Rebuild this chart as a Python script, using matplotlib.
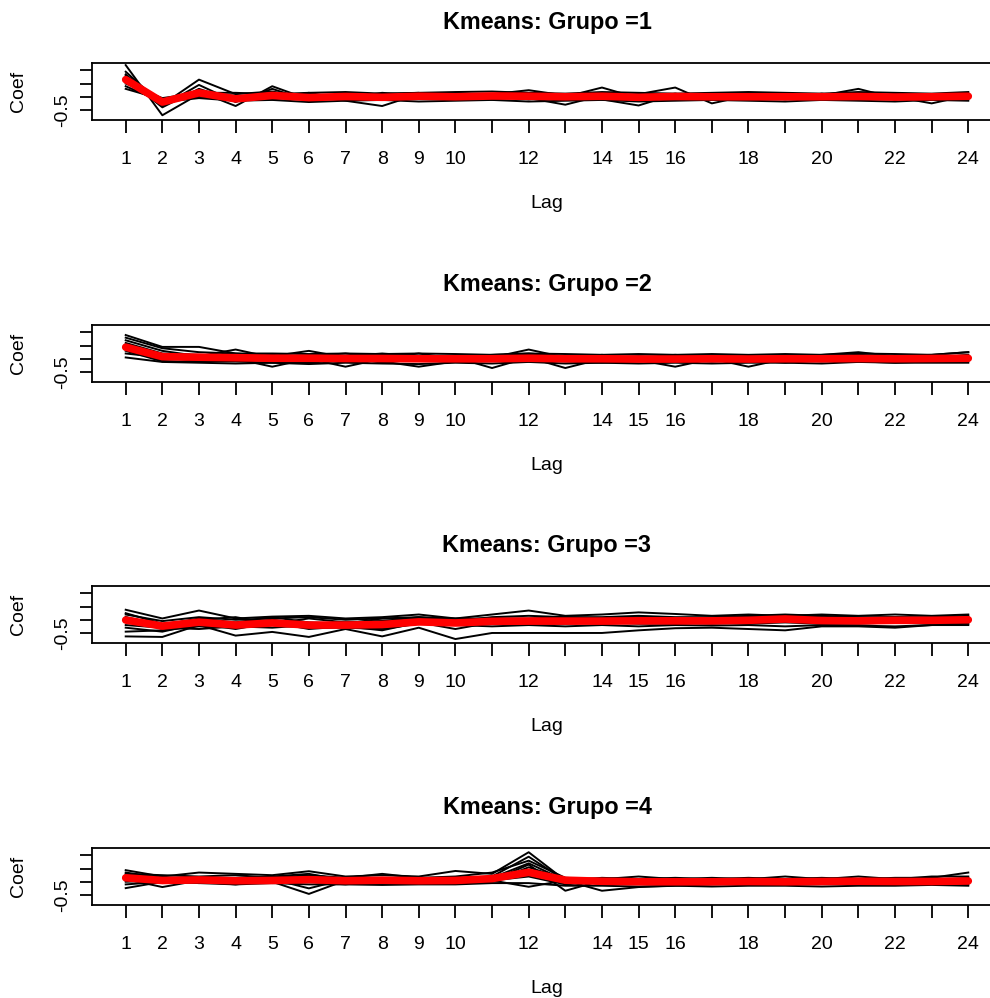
import numpy as np
import matplotlib
matplotlib.use("Agg")
import matplotlib.pyplot as plt

plt.rcParams['font.family'] = ['Liberation Sans', 'DejaVu Sans']

lags = list(range(1, 25))
shown_labels = [1, 2, 3, 4, 5, 6, 7, 8, 9, 10, 12, 14, 15, 16, 18, 20, 22, 24]
titles = ["Kmeans: Grupo =1", "Kmeans: Grupo =2", "Kmeans: Grupo =3", "Kmeans: Grupo =4"]

# autocorrelation curves of each series, per group
grupo1 = [
    [1.20, -0.70, 0.10, -0.05, 0.05, -0.10, 0.05, -0.10, 0.10, -0.05, 0.05, 0.00, -0.05, 0.05, -0.10, 0.05, 0.00, -0.05, 0.05, 0.00, 0.05, -0.05, 0.05, 0.10],
    [0.95, -0.30, 0.65, 0.10, 0.20, -0.05, 0.10, 0.00, 0.05, 0.10, 0.00, 0.10, 0.00, 0.35, -0.05, 0.00, 0.05, 0.00, 0.00, 0.05, 0.30, -0.05, 0.00, 0.05],
    [0.80, -0.15, 0.20, -0.35, 0.40, -0.10, 0.00, 0.10, -0.05, 0.15, 0.05, -0.05, -0.30, 0.05, 0.10, 0.35, -0.25, 0.05, 0.00, -0.05, 0.05, 0.00, -0.25, 0.05],
    [0.60, -0.25, 0.05, 0.00, -0.10, 0.05, -0.15, -0.35, 0.10, -0.05, 0.10, 0.25, 0.05, -0.10, -0.33, 0.10, 0.00, 0.05, -0.05, 0.10, -0.05, 0.05, 0.05, 0.00],
    [0.50, -0.05, 0.15, 0.15, 0.10, 0.15, 0.18, 0.12, 0.15, 0.18, 0.20, 0.15, 0.12, 0.18, 0.15, 0.12, 0.15, 0.18, 0.15, 0.12, 0.18, 0.15, 0.12, 0.18],
    [0.40, -0.20, -0.05, -0.15, -0.12, -0.20, -0.15, -0.12, -0.18, -0.15, -0.12, -0.18, -0.15, -0.12, -0.18, -0.15, -0.12, -0.15, -0.18, -0.12, -0.15, -0.18, -0.12, -0.15],
    [0.70, -0.40, 0.30, -0.15, 0.15, 0.00, -0.05, 0.15, 0.05, 0.05, -0.10, 0.00, -0.05, 0.10, 0.05, 0.00, -0.05, 0.10, 0.05, -0.10, 0.05, -0.10, 0.05, 0.10],
    [0.30, -0.10, 0.00, -0.05, -0.05, 0.15, -0.10, 0.10, 0.15, -0.10, 0.10, -0.10, 0.10, -0.10, 0.10, -0.10, 0.10, -0.10, 0.10, -0.10, 0.10, -0.10, 0.10, -0.10],
    [0.85, -0.35, 0.45, -0.20, 0.30, -0.15, 0.15, -0.10, 0.10, -0.05, 0.10, 0.05, 0.00, 0.05, 0.00, 0.05, -0.05, 0.05, 0.00, 0.05, 0.00, 0.00, 0.05, 0.05],
    [0.55, -0.15, 0.10, 0.05, -0.05, -0.05, 0.10, -0.12, 0.05, 0.12, -0.10, 0.12, -0.10, 0.12, -0.10, 0.12, -0.10, 0.12, -0.10, 0.12, -0.10, 0.12, -0.10, 0.12],
]
media1 = [0.65, -0.20, 0.15, -0.08, 0.05, -0.03, 0.01, -0.02, 0.02, 0.00, 0.03, 0.02, 0.00, 0.02, -0.02, 0.01, 0.00, 0.00, 0.00, 0.00, 0.01, -0.01, 0.00, 0.02]

grupo2 = [
    [0.90, 0.45, 0.45, 0.20, 0.10, 0.30, 0.05, 0.15, 0.05, 0.10, 0.05, 0.35, 0.05, 0.10, 0.05, 0.15, 0.05, 0.10, 0.05, 0.15, 0.25, 0.10, 0.15, 0.25],
    [0.70, 0.30, 0.10, 0.35, 0.05, 0.10, 0.20, 0.05, 0.20, 0.00, 0.10, 0.15, 0.00, 0.15, 0.00, 0.05, 0.10, 0.05, 0.10, 0.05, 0.10, 0.05, 0.10, 0.10],
    [0.50, 0.10, 0.05, 0.00, -0.30, 0.00, -0.30, 0.00, -0.05, 0.05, -0.35, 0.05, -0.35, 0.00, -0.05, -0.30, 0.00, -0.30, 0.00, -0.10, 0.00, -0.05, 0.00, 0.05],
    [0.30, -0.10, -0.10, -0.10, -0.15, -0.15, -0.05, -0.10, -0.30, -0.10, -0.05, 0.00, -0.10, -0.15, -0.10, -0.05, -0.10, -0.05, -0.15, -0.05, -0.10, -0.15, -0.10, -0.10],
    [0.05, -0.12, -0.15, -0.18, -0.15, -0.20, -0.15, -0.18, -0.20, -0.15, -0.18, -0.12, -0.18, -0.15, -0.18, -0.15, -0.18, -0.15, -0.15, -0.18, -0.12, -0.15, -0.15, -0.15],
    [0.60, 0.20, 0.15, 0.10, 0.15, 0.05, 0.10, 0.20, 0.10, 0.05, 0.15, 0.20, 0.10, 0.05, 0.10, 0.05, 0.15, 0.05, 0.05, 0.10, 0.15, 0.10, 0.05, 0.15],
    [0.40, 0.00, 0.00, 0.05, -0.05, -0.05, 0.00, -0.05, 0.00, -0.05, 0.00, 0.05, -0.05, 0.00, 0.00, -0.05, 0.00, -0.05, 0.00, 0.00, 0.05, -0.05, 0.00, 0.00],
    [0.20, 0.05, -0.08, 0.05, 0.00, -0.15, 0.05, -0.15, 0.05, -0.05, 0.05, -0.10, 0.05, -0.10, 0.05, 0.00, -0.10, 0.00, -0.05, 0.05, -0.10, 0.05, -0.10, 0.05],
    [0.80, 0.40, 0.25, 0.20, 0.20, 0.18, 0.20, 0.18, 0.20, 0.18, 0.15, 0.20, 0.18, 0.15, 0.18, 0.15, 0.18, 0.15, 0.18, 0.15, 0.20, 0.18, 0.15, 0.25],
    [0.35, -0.05, 0.05, -0.05, 0.05, 0.00, 0.05, 0.00, 0.00, 0.05, 0.00, 0.05, -0.05, 0.05, 0.00, 0.05, 0.00, 0.05, -0.05, 0.05, 0.00, 0.00, 0.05, -0.05],
]
media2 = [0.44, 0.08, 0.06, 0.04, 0.02, 0.02, 0.01, 0.01, 0.00, 0.00, 0.00, 0.02, 0.00, 0.00, -0.01, -0.01, 0.00, -0.01, 0.00, 0.00, 0.01, 0.00, 0.01, 0.02]

grupo3 = [
    [0.38, 0.05, 0.35, 0.05, 0.12, 0.15, 0.05, 0.10, 0.20, 0.05, 0.20, 0.35, 0.15, 0.20, 0.28, 0.22, 0.15, 0.20, 0.15, 0.20, 0.15, 0.20, 0.15, 0.20],
    [0.20, -0.05, 0.10, 0.00, 0.05, 0.10, 0.00, 0.05, 0.10, -0.05, 0.10, 0.15, 0.10, 0.10, 0.15, 0.10, 0.10, 0.15, 0.20, 0.15, 0.10, 0.10, 0.10, 0.15],
    [-0.63, -0.65, -0.20, -0.60, -0.46, -0.65, -0.35, -0.63, -0.30, -0.73, -0.50, -0.50, -0.50, -0.50, -0.40, -0.32, -0.30, -0.35, -0.40, -0.25, -0.25, -0.30, -0.20, -0.15],
    [-0.45, -0.40, -0.25, -0.30, -0.20, -0.30, -0.30, -0.35, -0.15, -0.20, -0.25, -0.20, -0.25, -0.20, -0.25, -0.20, -0.22, -0.20, -0.25, -0.20, -0.22, -0.25, -0.20, -0.20],
    [0.10, -0.20, 0.05, -0.10, 0.10, -0.10, -0.15, 0.05, 0.05, 0.00, 0.05, 0.00, 0.05, 0.05, 0.00, 0.05, 0.00, 0.05, 0.10, 0.05, 0.00, 0.05, 0.00, 0.05],
    [-0.20, -0.30, -0.35, -0.25, -0.30, -0.20, -0.25, -0.10, -0.15, -0.10, -0.15, -0.10, -0.10, -0.15, -0.10, -0.10, -0.15, -0.10, -0.05, -0.10, -0.10, -0.05, -0.10, -0.05],
    [0.00, -0.25, -0.10, -0.20, -0.05, -0.25, -0.20, -0.15, 0.00, -0.15, 0.00, -0.05, 0.00, -0.05, 0.00, -0.05, -0.05, 0.00, 0.05, 0.00, -0.05, 0.00, -0.05, 0.00],
    [0.25, -0.15, 0.00, 0.10, -0.15, 0.05, -0.10, -0.05, 0.10, 0.05, 0.05, 0.05, 0.10, 0.05, 0.10, 0.05, 0.05, 0.10, 0.15, 0.10, 0.05, 0.10, 0.05, 0.10],
    [-0.30, -0.45, -0.15, -0.35, -0.10, -0.35, -0.25, -0.40, -0.10, -0.35, -0.10, -0.15, -0.15, -0.10, -0.15, -0.15, -0.10, -0.15, -0.10, -0.15, -0.15, -0.10, -0.15, -0.10],
    [0.10, -0.35, -0.05, -0.15, 0.00, -0.15, -0.10, -0.05, -0.05, -0.10, -0.05, -0.10, -0.05, 0.00, -0.05, 0.00, 0.00, -0.05, 0.00, -0.05, 0.00, -0.05, 0.00, 0.00],
]
media3 = [-0.01, -0.24, -0.09, -0.20, -0.12, -0.20, -0.20, -0.18, -0.08, -0.12, -0.06, -0.05, -0.05, -0.05, -0.04, -0.04, -0.04, -0.02, 0.03, -0.03, -0.04, -0.02, -0.02, 0.00]

grupo4 = [
    [0.44, 0.20, 0.35, 0.30, 0.25, 0.40, 0.20, 0.25, 0.20, 0.41, 0.30, 1.12, 0.05, 0.15, 0.10, 0.15, 0.10, 0.15, 0.10, 0.15, 0.10, 0.15, 0.15, 0.35],
    [0.30, 0.25, 0.20, 0.25, 0.15, 0.25, 0.15, 0.30, 0.15, 0.20, 0.35, 0.80, 0.15, 0.10, 0.20, 0.10, 0.15, 0.10, 0.20, 0.10, 0.20, 0.10, 0.20, 0.20],
    [-0.24, 0.00, 0.05, 0.05, 0.00, -0.46, 0.05, 0.00, 0.05, 0.00, 0.05, 0.65, -0.34, 0.05, 0.00, 0.05, -0.05, 0.05, -0.10, 0.05, 0.00, 0.05, 0.00, -0.10],
    [0.10, -0.20, 0.05, 0.00, 0.10, -0.25, 0.10, -0.05, 0.05, -0.05, 0.00, 0.55, 0.10, -0.10, -0.05, -0.10, 0.00, -0.05, 0.00, -0.05, 0.05, -0.05, 0.00, 0.05],
    [0.00, 0.05, -0.05, 0.05, -0.05, 0.00, -0.10, 0.05, -0.05, 0.05, 0.05, -0.19, 0.05, -0.34, -0.20, -0.15, -0.10, -0.05, 0.00, -0.05, 0.00, -0.05, 0.00, 0.00],
    [0.20, 0.10, 0.15, 0.10, 0.15, 0.05, 0.15, 0.10, 0.15, 0.10, 0.10, 0.40, 0.00, 0.05, 0.05, 0.00, 0.05, 0.00, 0.05, 0.00, 0.05, 0.00, 0.05, 0.05],
    [0.35, 0.15, 0.10, 0.15, 0.20, 0.30, 0.05, 0.15, 0.05, 0.15, 0.20, 0.95, 0.05, 0.10, 0.00, 0.10, 0.00, 0.10, 0.05, 0.10, 0.05, 0.10, 0.05, 0.15],
    [-0.10, 0.00, -0.05, -0.10, -0.05, -0.10, -0.10, -0.12, -0.10, -0.10, -0.05, -0.05, -0.15, -0.15, -0.18, -0.15, -0.18, -0.15, -0.15, -0.18, -0.15, -0.15, -0.12, -0.15],
    [0.25, 0.05, 0.10, 0.10, 0.05, 0.15, 0.10, 0.10, 0.10, 0.05, 0.15, 0.70, 0.05, 0.00, 0.05, 0.05, 0.00, 0.05, 0.00, 0.05, 0.00, 0.05, 0.00, 0.10],
    [0.05, -0.05, 0.00, -0.10, 0.05, 0.00, -0.05, 0.00, -0.05, 0.00, 0.05, 0.20, -0.10, 0.00, -0.05, 0.00, -0.05, 0.00, -0.05, 0.00, -0.05, 0.00, -0.05, 0.00],
]
media4 = [0.15, 0.05, 0.07, 0.04, 0.05, 0.08, 0.04, 0.06, 0.04, 0.05, 0.12, 0.36, 0.06, 0.02, 0.00, 0.00, 0.00, 0.01, 0.00, 0.01, 0.02, 0.01, 0.01, 0.03]

grupos = [grupo1, grupo2, grupo3, grupo4]
medias = [media1, media2, media3, media4]

fig = plt.figure(figsize=(9.9, 9.98), dpi=100)

# panel box tops in pixels (figure is 998 px tall)
tops = [63, 325, 586, 848]
box_h = 57
for i in range(4):
    bottom = 1 - (tops[i] + box_h) / 998
    ax = fig.add_axes([92 / 990, bottom, 910 / 990, box_h / 998])
    for serie in grupos[i]:
        ax.plot(lags, serie, color='black', lw=1.4)
    ax.plot(lags, medias[i], color='red', lw=5.5, solid_capstyle='round')

    ax.set_xlim(0.08, 24.92)
    ax.set_ylim(-0.88, 1.28)
    ax.set_xticks(lags)
    ax.set_xticklabels([str(l) if l in shown_labels else '' for l in lags])
    ax.set_yticks([-0.5, 0.0, 0.5, 1.0])
    ax.set_yticklabels(['-0.5', '', '', ''], rotation=90, va='center')
    ax.tick_params(length=9, width=1.3, labelsize=14, direction='out')
    ax.tick_params(axis='x', pad=13.5)
    ax.tick_params(axis='y', pad=6)
    for sp in ax.spines.values():
        sp.set_linewidth(1.3)

    ax.set_title(titles[i], fontsize=16.8, fontweight='bold', pad=24.5)
    ax.set_xlabel('Lag', fontsize=14, labelpad=19)
    ax.set_ylabel('Coef', fontsize=14, labelpad=19.5)

fig.savefig('out.png', dpi=100)
